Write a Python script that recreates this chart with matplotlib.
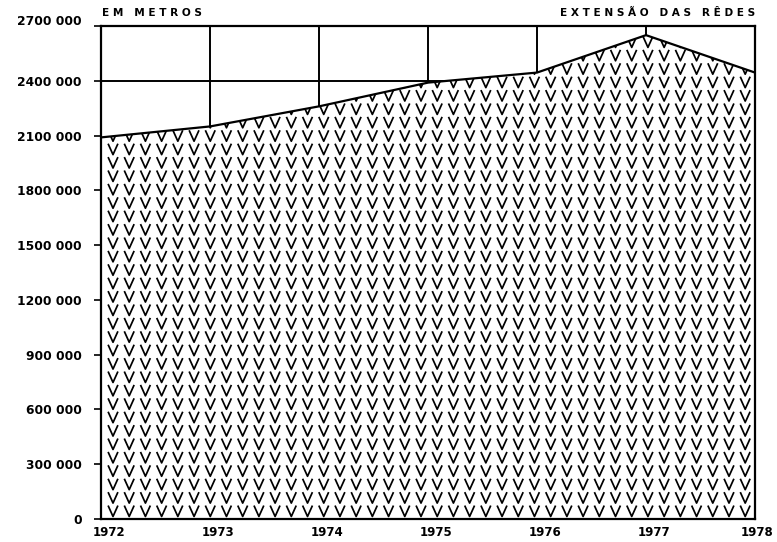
import numpy as np
import matplotlib
matplotlib.use("Agg")
import matplotlib.pyplot as plt
import matplotlib.transforms as mtransforms
from matplotlib.path import Path

years = [1972, 1973, 1974, 1975, 1976, 1977, 1978]
extensao = [2090000, 2150000, 2260000, 2390000, 2445000, 2650000, 2445000]
ytick_vals = [0, 300000, 600000, 900000, 1200000, 1500000, 1800000, 2100000, 2400000, 2700000]
ytick_labels = ["0", "300 000", "600 000", "900 000", "1200 000", "1500 000",
                "1800 000", "2100 000", "2400 000", "2700 000"]
xtick_labels = ["1972", "1973", "1974", "1975", "1976", "1977", "1978"]

fig = plt.figure(figsize=(7.77, 5.42), dpi=100)
ax = fig.add_axes([0.130, 0.0424, 0.8417, 0.9096])
ax.set_xlim(1972, 1978)
ax.set_ylim(0, 2700000)

# grid lines (hidden under the fill)
for yr in years[1:-1]:
    ax.axvline(yr, color="black", lw=1.4, zorder=1)
ax.axhline(2400000, color="black", lw=1.4, zorder=1)

poly = ax.fill_between(years, 0, extensao, facecolor="white", edgecolor="none", zorder=2)

# V pattern inside the filled area
gx = np.linspace(1972.11, 1977.91, 40)
gy = np.arange(43800, 2700000, 73400)
GX, GY = np.meshgrid(gx, gy)
vpath = Path([(-0.45, 0.5), (0, -0.5), (0.45, 0.5)], [Path.MOVETO, Path.LINETO, Path.LINETO])
sc = ax.scatter(GX.ravel(), GY.ravel(), marker=vpath, s=62, facecolors="none",
                edgecolors="black", linewidths=1.25, zorder=3)
sc.set_clip_path(poly.get_paths()[0], ax.transData)

ax.plot(years, extensao, color="black", lw=1.6, zorder=4)

for sp in ax.spines.values():
    sp.set_linewidth(1.6)
    sp.set_zorder(5)

ax.set_yticks(ytick_vals)
ax.set_yticklabels(ytick_labels, fontsize=8.8, fontweight="bold")
ax.set_xticks(years)
ax.set_xticklabels(xtick_labels, fontsize=8.5, fontweight="bold")
ax.tick_params(axis="y", length=5, width=1.2, pad=9)
ax.tick_params(axis="x", length=0, pad=5)
xlbls = ax.get_xticklabels()
for i, lbl in enumerate(xlbls):
    dx = 8 if i < len(xlbls) - 1 else 2
    lbl.set_transform(lbl.get_transform() + mtransforms.ScaledTranslation(dx / 100, 0, fig.dpi_scale_trans))
top_lbl = ax.get_yticklabels()[-1]
top_lbl.set_transform(top_lbl.get_transform() + mtransforms.ScaledTranslation(0, 6 / 100, fig.dpi_scale_trans))

fig.text(0.131, 0.966, "E M   M E T R O S", fontsize=7.6, fontweight="bold", ha="left", va="bottom")
fig.text(0.972, 0.966, "E X T E N S Ã O   D A S   R Ê D E S", fontsize=7.6, fontweight="bold",
         ha="right", va="bottom")

fig.savefig("out.png", dpi=100)
